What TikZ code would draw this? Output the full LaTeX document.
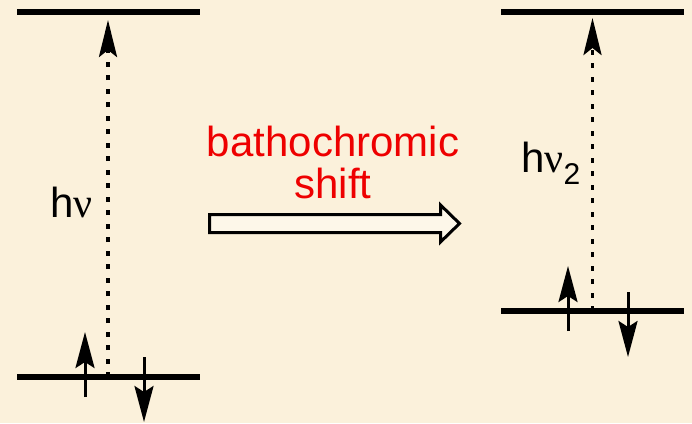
\documentclass[tikz,border=0pt]{standalone}
\usepackage{fontspec}
\setmainfont{Liberation Sans}
\newfontfamily\nufont{Liberation Serif}
\usetikzlibrary{arrows.meta}

\definecolor{paper}{RGB}{251,241,219}
\definecolor{arrowfill}{RGB}{253,247,233}
\definecolor{shiftred}{RGB}{238,0,0}

\newcommand{\nuchar}{{\nufont ν}}

\tikzset{
  level/.style={line width=5.5pt},
  transition/.style={line width=3.6pt, dash pattern=on 5pt off 8.5pt,
    -{Stealth[length=37pt,width=18pt,inset=7pt]}},
  spin/.style={line width=3pt, -{Stealth[length=36pt,width=19pt,inset=6pt]}},
  txt/.style={font=\fontsize{42}{42}\selectfont, inner sep=0pt},
  blockarrow/.style={line width=3pt, fill=arrowfill, line join=miter},
}

\begin{document}
\begin{tikzpicture}[x=1pt,y=-1pt]
  \useasboundingbox[fill=paper] (0,0) rectangle (692,423);

  % ---- left diagram: levels ----
  \coordinate (LUw) at (17,12);   \coordinate (LUe) at (200,12);
  \coordinate (LLw) at (17,377);  \coordinate (LLe) at (200,377);
  \draw[level] (LUw) -- (LUe);
  \draw[level] (LLw) -- (LLe);

  % transition and electron pair
  \coordinate (Lt0) at (108,377); \coordinate (Lt1) at (108,20);
  \draw[transition] (Lt0) -- (Lt1);
  \coordinate (Lup0) at (85,397);  \coordinate (Lup1) at (85,332);
  \coordinate (Ldn0) at (144,357); \coordinate (Ldn1) at (144,422);
  \draw[spin] (Lup0) -- (Lup1);
  \draw[spin] (Ldn0) -- (Ldn1);

  \node[txt, anchor=base west] (hnu) at (50,217) {h\nuchar};

  % ---- right diagram: levels ----
  \coordinate (RUw) at (501,12);  \coordinate (RUe) at (684,12);
  \coordinate (RLw) at (501,311); \coordinate (RLe) at (684,311);
  \draw[level] (RUw) -- (RUe);
  \draw[level] (RLw) -- (RLe);

  \coordinate (Rt0) at (592.5,311); \coordinate (Rt1) at (592.5,18);
  \draw[transition] (Rt0) -- (Rt1);
  \coordinate (Rup0) at (568,331); \coordinate (Rup1) at (568,266);
  \coordinate (Rdn0) at (628,292); \coordinate (Rdn1) at (628,357);
  \draw[spin] (Rup0) -- (Rup1);
  \draw[spin] (Rdn0) -- (Rdn1);

  \node[txt, anchor=base west] (hnu2) at (521,172)
    {h\nuchar\raisebox{-12pt}{\fontsize{30}{30}\selectfont 2}};

  % ---- shift label and block arrow ----
  \node[txt, text=shiftred, anchor=base] (bath) at (333,156) {bathochromic};
  \node[txt, text=shiftred, anchor=base] (shift) at (333,198) {shift};

  \coordinate (A1) at (209.5,214.5);
  \coordinate (A2) at (440.5,214.5);
  \coordinate (A3) at (440.5,205);
  \coordinate (A4) at (459.5,223.5);
  \coordinate (A5) at (440.5,242);
  \coordinate (A6) at (440.5,232.5);
  \coordinate (A7) at (209.5,232.5);
  \draw[blockarrow] (A1) -- (A2) -- (A3) -- (A4) -- (A5) -- (A6) -- (A7) -- cycle;
\end{tikzpicture}
\end{document}
